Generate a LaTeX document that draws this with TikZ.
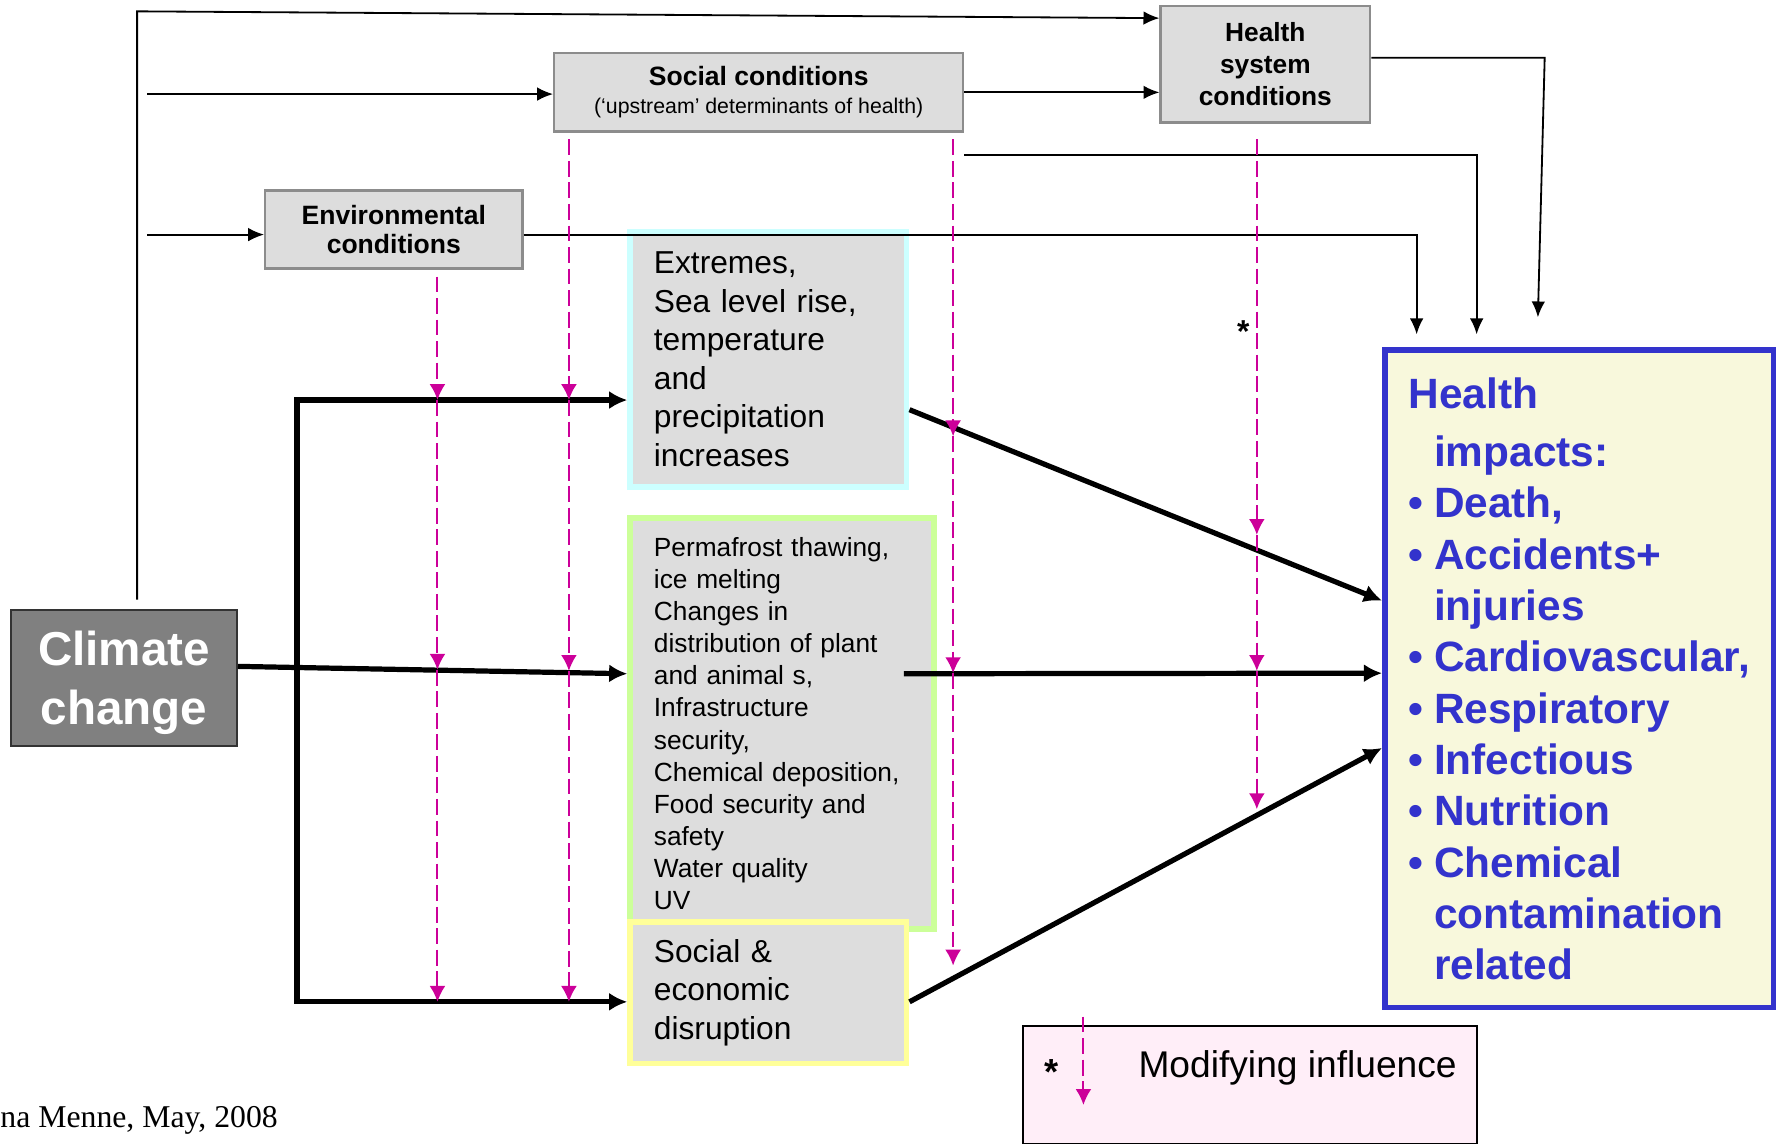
\documentclass[tikz,border=0pt]{standalone}
\usepackage{fontspec}
\setmainfont{Liberation Sans}
\newfontfamily\creditfont{Liberation Serif}
\usetikzlibrary{arrows.meta, calc}

\definecolor{boxgray}{HTML}{DDDDDD}
\definecolor{edgegray}{HTML}{8C8C8C}
\definecolor{climgray}{HTML}{808080}
\definecolor{climedge}{HTML}{333333}
\definecolor{modmag}{HTML}{CC0099}
\definecolor{impblue}{HTML}{3333CC}
\definecolor{impfill}{HTML}{F8F8DC}
\definecolor{cyanedge}{HTML}{CCFFFF}
\definecolor{greenedge}{HTML}{CCFF99}
\definecolor{yellowedge}{HTML}{FFFF99}
\definecolor{legpink}{HTML}{FFEEF8}

\newcommand{\impbul}{\makebox[0.6em][l]{\textbullet}}
\newcommand{\impind}{\hspace*{0.6em}}

\begin{document}
\begin{tikzpicture}[x=0.5pt, y=-0.5pt,
  condbox/.style={draw=edgegray, line width=1pt, fill=boxgray, align=center, inner sep=0pt,
    font=\bfseries\fontsize{11.7}{12.5}\selectfont},
  effectbox/.style={fill=boxgray, line width=2.5pt, align=left, inner xsep=10.5pt, inner ysep=0pt},
  mainarrow/.style={line width=2.3pt, -{Latex[length=8pt,width=8pt]}},
  thinarrow/.style={line width=0.8pt, -{Latex[length=7pt,width=6pt]}},
  modarrow/.style={modmag, line width=0.9pt, dash pattern=on 7pt off 2.5pt, -{Latex[length=7pt,width=7pt]}}]
\useasboundingbox (0,0) rectangle (1568,1012);

% condition boxes
\node[condbox, minimum width=92.5pt, minimum height=51.5pt, font=\bfseries\fontsize{11.6}{14}\selectfont] (hsys) at (1116.5,56.5) {Health\\system\\conditions};
\node[condbox, minimum width=180.5pt, minimum height=34.5pt] (social) at (669.5,81.5) {Social conditions\\{\mdseries\fontsize{9.4}{11}\selectfont (‘upstream’ determinants of health)}};
\node[condbox, minimum width=113.5pt, minimum height=34.5pt] (env) at (347.5,202.5) {Environmental\\conditions};

% exposures
\node[effectbox, draw=cyanedge, minimum width=122pt, minimum height=112.5pt, text width=101pt, font=\fontsize{14}{17}\selectfont] (extremes) at (678,317) {Extremes,\\Sea level rise,\\temperature\\and\\precipitation\\increases};
\node[effectbox, draw=greenedge, minimum width=134pt, minimum height=181.5pt, text width=113pt, font=\fontsize{11.6}{14.15}\selectfont] (permafrost) at (690,638.5) {Permafrost thawing,\\ice melting\\Changes in\\distribution of plant\\and animal s,\\Infrastructure\\security,\\Chemical deposition,\\Food security and\\safety\\Water quality\\UV};
\node[effectbox, draw=yellowedge, minimum width=122pt, minimum height=62.5pt, text width=101pt, font=\fontsize{14}{17}\selectfont] (disrupt) at (678,876) {Social \&\\economic\\disruption};

\node[draw=climedge, fill=climgray, line width=1pt, text=white, align=center, text depth=0pt, font=\bfseries\fontsize{21}{26}\selectfont, minimum width=99.5pt, minimum height=60pt] (climate) at (109.5,598) {Climate\\change};

\node[draw=impblue, fill=impfill, line width=2.5pt, text=impblue, align=left, font=\bfseries\fontsize{18.7}{22.65}\selectfont, minimum width=171.5pt, minimum height=290pt] (impacts) at (1393.5,599) {Health\\[3pt]\impind impacts:\\\impbul Death,\\\impbul Accidents+\\\impind injuries\\\impbul Cardiovascular,\\\impbul Respiratory\\\impbul Infectious\\\impbul Nutrition\\\impbul Chemical\\\impind contamination\\\impind related};

% legend
\node[draw=black, fill=legpink, line width=0.8pt, minimum width=200pt, minimum height=52pt] (legend) at (1103,957) {};
\node[font=\bfseries\fontsize{16}{16}\selectfont] (legstar) at (928,946) {*};
\node[font=\fontsize{16.4}{18}\selectfont] (legtext) at (1145,942) {Modifying influence};
\coordinate (legtop) at (956,897);
\coordinate (legbot) at (956,975);
\draw[modarrow] (legtop) -- (legbot);

\node[anchor=west, inner sep=0pt, font=\creditfont\fontsize{14}{14}\selectfont] (credit) at (0,989) {na Menne, May, 2008};

% thin connectors
\coordinate (topcorner) at (121,10);
\coordinate (socin) at (130,83);
\coordinate (envin) at (130,207);
\coordinate (envdrop) at (1250,295);
\coordinate (socdrop) at (1303,295);
\coordinate (hsysturn) at (1363,51);
\coordinate (hsysdrop) at (1357,280);
\draw[thinarrow] ([xshift=5.75pt,yshift=4pt]climate.north) -- (topcorner) -- ([yshift=20.25pt]hsys.west);
\draw[thinarrow] (socin) -- (socin -| social.west);
\draw[thinarrow] (envin) -- (envin -| env.west);
\draw[thinarrow] (social.east) -- (social.east -| hsys.west);
\draw[thinarrow] ([yshift=-2.25pt]env.east) -| (envdrop);
\draw[thinarrow] ([yshift=-10pt]social.south east) -| (socdrop);
\draw[thinarrow] ([yshift=2.75pt]hsys.east) -- (hsysturn) -- (hsysdrop);

% thick connectors
\coordinate (trunktop) at (262,353);
\coordinate (trunkbot) at (262,884);
\draw[mainarrow] (trunkbot) |- (extremes.west |- trunktop);
\draw[mainarrow] (trunktop) |- (disrupt.west |- trunkbot);
\draw[mainarrow] ([yshift=5pt]climate.east) -- ([yshift=22pt]permafrost.west);
\draw[mainarrow] ([yshift=-22.25pt]extremes.east) -- ([yshift=34.5pt]impacts.west);
\draw[mainarrow] ([xshift=-14.5pt,yshift=22pt]permafrost.east) -- ([yshift=2.5pt]impacts.west);
\draw[mainarrow] ([yshift=-4pt]disrupt.east) -- ([yshift=-30.5pt]impacts.west);

% modifying influences
\foreach \src/\gap/\dx/\ya/\yb/\yc in {env/6/386/353/591/884, social/6/502/353/592/884, social/6/841/385/594/852, hsys/14/1109/472/592/714}{
  \path (\dx,0) coordinate (mx);
  \draw[modarrow] ($(\src.south -| mx)+(0,\gap)$) -- (\dx,\ya);
  \draw[modarrow] (\dx,\ya) -- (\dx,\yb);
  \draw[modarrow] (\dx,\yb) -- (\dx,\yc);
}
\node[font=\bfseries\fontsize{14}{14}\selectfont] (modstar) at (1097,293) {*};
\end{tikzpicture}
\end{document}
